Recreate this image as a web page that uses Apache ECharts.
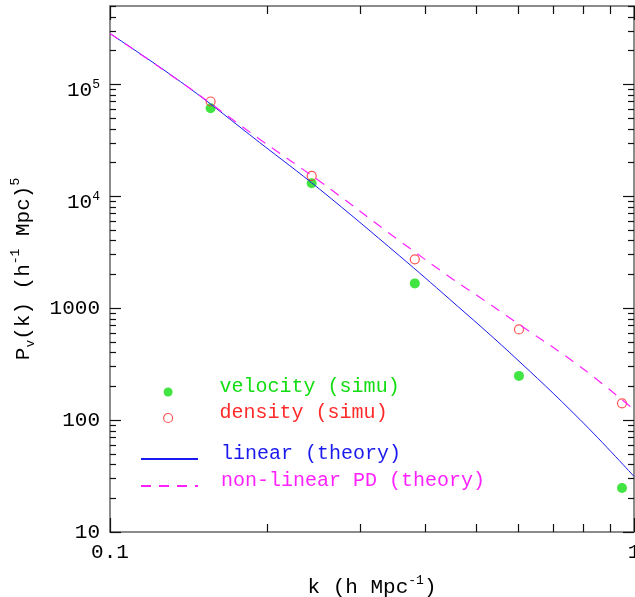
<!DOCTYPE html>
<html>
<head>
<meta charset="utf-8">
<script src="https://cdn.jsdelivr.net/npm/echarts@6/dist/echarts.min.js"></script>
<style>
  html, body { margin: 0; padding: 0; background: #fff; }
  #chart { width: 635px; height: 597px; }
</style>
</head>
<body>
<div id="chart"></div>
<script>
// simulation points (same k bins for both)
const kSimu = [0.1556, 0.2426, 0.3817, 0.6032, 0.9487]
const velocitySimu = [61100, 13050, 1663, 248, 24.7]
const densitySimu = [70100, 15160, 2727, 645, 141]

// theory curves
const kLinear = [0.1, 0.1398, 0.193, 0.2513, 0.3573, 0.4452, 0.5797, 0.7887, 1.0]
const pLinear = [283600, 96800, 30160, 11530, 2917, 1196, 399, 101, 31.4]
const kNonLinear = [0.1, 0.1398, 0.193, 0.2513, 0.3573, 0.4517, 0.5148, 0.5926, 0.7887, 1.0]
const pNonLinear = [283600, 96800, 32300, 13600, 3976, 1806, 1196, 760, 301, 124]

// ticks
const xMajor = [0.1, 1]
const xMinor = [0.2, 0.3, 0.4, 0.5, 0.6, 0.7, 0.8, 0.9]
const yMajor = [10, 100, 1000, 10000, 100000]
const yMinor = []
for (const d of [10, 100, 1000, 10000, 100000]) {
  for (let m = 2; m <= 9; m++) {
    if (m * d <= 500000) yMinor.push(m * d)
  }
}

const FONT = 'Liberation Mono'
const green = '#12dd12'
const red = '#ff2a2a'
const blue = '#1a1aee'
const magenta = '#ff22ff'

const frameLine = { show: true, lineStyle: { color: '#666', width: 1.5 } }
const noLine = { show: false }

const zip = (xs, ys) => xs.map((x, i) => [x, ys[i]])

const tickStyle = (values, len) => ({
  show: true,
  inside: true,
  length: len,
  customValues: values,
  lineStyle: { color: '#111', width: 1.2 }
})

const richMain = {
  b: { fontFamily: FONT, fontSize: 21, lineHeight: 34, verticalAlign: 'bottom', color: '#000' },
  sup: { fontFamily: FONT, fontSize: 13, verticalAlign: 'middle', color: '#000' }
}

// legend text sits a little above its marker
const legendText = {
  fontFamily: FONT, fontSize: 20,
  rich: { a: { fontFamily: FONT, fontSize: 20, lineHeight: 26, padding: [0, 0, 10, 18] } }
}
const hideSymbol = { opacity: 0 }

const baseX = {
  type: 'log', logBase: 10, min: 0.1, max: 1,
  splitLine: { show: false },
  axisLabel: { show: false }
}
const baseY = {
  type: 'log', logBase: 10, min: 10, max: 500000,
  splitLine: { show: false },
  axisLabel: { show: false }
}

const chart = echarts.init(document.getElementById('chart'))

const option = {
  backgroundColor: '#fff',
  animation: false,
  grid: { left: 110, right: 1, top: 6, bottom: 65, outerBoundsMode: 'none' },
  xAxis: [
    {
      ...baseX, position: 'bottom',
      axisLine: frameLine,
      axisTick: tickStyle(xMajor, 14),
      axisLabel: {
        show: true, customValues: xMajor, margin: 10,
        fontFamily: FONT, fontSize: 21, color: '#000',
        formatter: v => String(+v.toPrecision(3))
      },
      name: '{b|k (h Mpc}{sup|-1}{b|)}',
      nameLocation: 'middle',
      nameGap: 32,
      nameTextStyle: { fontFamily: FONT, fontSize: 21, color: '#000', rich: richMain }
    },
    { ...baseX, position: 'bottom', axisLine: noLine, axisTick: tickStyle(xMinor, 8) },
    { ...baseX, position: 'top', axisLine: frameLine, axisTick: tickStyle(xMajor, 14) },
    { ...baseX, position: 'top', axisLine: noLine, axisTick: tickStyle(xMinor, 8) }
  ],
  yAxis: [
    {
      ...baseY, position: 'left',
      axisLine: frameLine,
      axisTick: tickStyle(yMajor, 11),
      axisLabel: {
        show: true, customValues: yMajor, margin: 10,
        fontFamily: FONT, fontSize: 21, color: '#000',
        formatter: v => {
          const e = Math.round(Math.log10(v))
          return e >= 4 ? '{b|10}{sup|' + e + '}' : String(Math.round(v))
        },
        rich: richMain
      },
      name: '{b|P}{sub|v}{b|(k) (h}{sup|-1}{b| Mpc)}{sup|5}',
      nameLocation: 'middle',
      nameGap: 73,
      nameTextStyle: {
        fontFamily: FONT, fontSize: 21, color: '#000',
        rich: {
          b: { fontFamily: FONT, fontSize: 21, lineHeight: 28, verticalAlign: 'middle', color: '#000' },
          sup: { fontFamily: FONT, fontSize: 13, verticalAlign: 'top', color: '#000' },
          sub: { fontFamily: FONT, fontSize: 13, verticalAlign: 'bottom', color: '#000' }
        }
      }
    },
    { ...baseY, position: 'left', axisLine: noLine, axisTick: tickStyle(yMinor, 6) },
    { ...baseY, position: 'right', axisLine: frameLine, axisTick: tickStyle(yMajor, 11) },
    { ...baseY, position: 'right', axisLine: noLine, axisTick: tickStyle(yMinor, 6) }
  ],
  legend: [
    {
      orient: 'vertical', left: 163, top: 377, padding: 0,
      itemWidth: 57, itemHeight: 9, itemGap: -4,
      selectedMode: false,
      formatter: '{a|{name}}',
      textStyle: legendText,
      data: [
        { name: 'velocity (simu)', textStyle: { color: green } },
        { name: 'density (simu)', textStyle: { color: red }, itemStyle: { borderWidth: 1.2 } }
      ]
    },
    {
      orient: 'vertical', left: 140, top: 444, padding: 0,
      itemWidth: 57, itemHeight: 8, itemGap: -3,
      selectedMode: false,
      formatter: '{a|{name}}',
      textStyle: legendText,
      data: [
        { name: 'linear (theory)', textStyle: { color: blue }, itemStyle: hideSymbol },
        { name: 'non-linear PD (theory)', textStyle: { color: magenta }, itemStyle: hideSymbol }
      ]
    }
  ],
  series: [
    {
      name: 'linear (theory)',
      type: 'line',
      data: zip(kLinear, pLinear),
      showSymbol: false,
      symbol: 'none',
      smooth: 0.4,
      lineStyle: { color: blue, width: 1 },
      itemStyle: { color: blue }
    },
    {
      name: 'non-linear PD (theory)',
      type: 'line',
      data: zip(kNonLinear, pNonLinear),
      showSymbol: false,
      symbol: 'none',
      smooth: 0.4,
      lineStyle: { color: magenta, width: 1.2, type: [10, 8] },
      itemStyle: { color: magenta }
    },
    {
      name: 'velocity (simu)',
      type: 'scatter',
      data: zip(kSimu, velocitySimu),
      symbol: 'circle',
      symbolSize: 10,
      itemStyle: { color: green }
    },
    {
      name: 'density (simu)',
      type: 'scatter',
      data: zip(kSimu, densitySimu),
      symbol: 'circle',
      symbolSize: 9,
      itemStyle: { color: 'transparent', borderColor: red, borderWidth: 1.2 }
    }
  ]
}

chart.setOption(option)
window.addEventListener('resize', () => chart.resize())
</script>
</body>
</html>
